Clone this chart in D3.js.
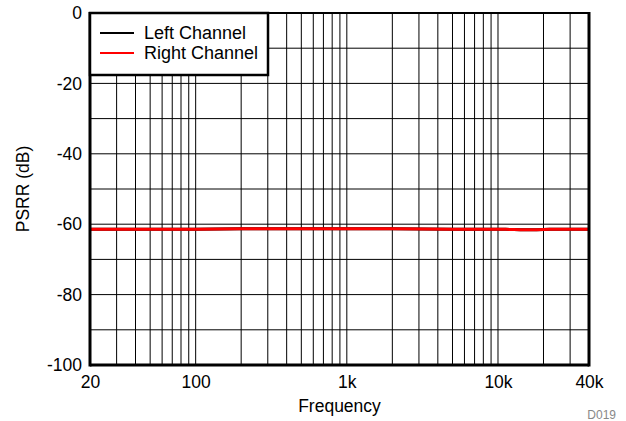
<!DOCTYPE html>
<html>
<head>
<meta charset="utf-8">
<script src="https://cdn.jsdelivr.net/npm/d3@7"></script>
<style>
  body { margin: 0; background: #fff; }
  svg { display: block; }
  text { font-family: "Liberation Sans", Arial, sans-serif; }
</style>
</head>
<body>
<svg id="chart" width="626" height="421"></svg>
<script>
// ---- data ----
const frequencies = [20, 30, 50, 100, 200, 500, 1000, 2000, 5000, 10000, 12000, 15000, 20000, 30000, 40000];
const leftChannel = [-61.4, -61.4, -61.4, -61.4, -61.3, -61.3, -61.3, -61.3, -61.4, -61.4, -61.5, -61.6, -61.5, -61.4, -61.4];
const rightChannel = [-61.4, -61.4, -61.4, -61.4, -61.3, -61.3, -61.3, -61.3, -61.4, -61.4, -61.5, -61.6, -61.5, -61.4, -61.4];
const seriesNames = ["Left Channel", "Right Channel"];
const seriesColors = ["#000000", "#ff0000"];
const xTickValues = [20, 100, 1000, 10000, 40000];
const xTickLabels = ["20", "100", "1k", "10k", "40k"];
const yTickValues = [0, -20, -40, -60, -80, -100];
const yTickLabels = ["0", "-20", "-40", "-60", "-80", "-100"];
const xGridValues = [30,40,50,60,70,80,90,100,200,300,400,500,600,700,800,900,1000,2000,3000,4000,5000,6000,7000,8000,9000,10000,20000,30000];
const yGridValues = [-10,-20,-30,-40,-50,-60,-70,-80,-90];

// ---- layout ----
const svg = d3.select("#chart");
const L = 90, R = 589, T = 13, B = 365;
const x = d3.scaleLog().domain([20, 40000]).range([L, R]);
const y = d3.scaleLinear().domain([-100, 0]).range([B, T]);

// gridlines
svg.append("g").selectAll("line").data(xGridValues).join("line")
  .attr("x1", d => x(d)).attr("x2", d => x(d))
  .attr("y1", T).attr("y2", B)
  .attr("stroke", "#000").attr("stroke-width", 1);
svg.append("g").selectAll("line").data(yGridValues).join("line")
  .attr("x1", L).attr("x2", R)
  .attr("y1", d => y(d)).attr("y2", d => y(d))
  .attr("stroke", "#000").attr("stroke-width", 1);

// series
const line = d3.line().x((d, i) => x(frequencies[i])).y(d => y(d)).curve(d3.curveMonotoneX);
[leftChannel, rightChannel].forEach((s, k) => {
  svg.append("path").datum(s)
    .attr("d", line)
    .attr("fill", "none")
    .attr("stroke", seriesColors[k])
    .attr("stroke-width", 3);
});

// frame
svg.append("line").attr("x1", L).attr("x2", R).attr("y1", T).attr("y2", T).attr("stroke", "#000").attr("stroke-width", 2);
svg.append("line").attr("x1", L).attr("x2", R).attr("y1", B).attr("y2", B).attr("stroke", "#000").attr("stroke-width", 3);
svg.append("line").attr("x1", L).attr("x2", L).attr("y1", T - 1).attr("y2", B + 1.5).attr("stroke", "#000").attr("stroke-width", 3);
svg.append("line").attr("x1", R).attr("x2", R).attr("y1", T - 1).attr("y2", B + 1.5).attr("stroke", "#000").attr("stroke-width", 3);

// axes labels
const yAxis = d3.axisLeft(y).tickValues(yTickValues).tickSize(0).tickPadding(8)
  .tickFormat((d, i) => yTickLabels[i]);
const gy = svg.append("g").attr("transform", `translate(${L},0)`).call(yAxis);
gy.select(".domain").remove();
gy.selectAll("text").attr("font-size", 17.5).attr("fill", "#000")
  .attr("font-family", "'Liberation Sans', Arial, sans-serif");

const xAxis = d3.axisBottom(x).tickValues(xTickValues).tickSize(0).tickPadding(11)
  .tickFormat((d, i) => xTickLabels[i]);
const gx = svg.append("g").attr("transform", `translate(0,${B})`).call(xAxis);
gx.select(".domain").remove();
gx.selectAll("text").attr("font-size", 17.5).attr("fill", "#000")
  .attr("font-family", "'Liberation Sans', Arial, sans-serif");

svg.append("text").attr("x", (L + R) / 2).attr("y", 412).attr("text-anchor", "middle")
  .attr("font-size", 17.5).text("Frequency");
svg.append("text").attr("transform", `translate(29,${(T + B) / 2}) rotate(-90)`)
  .attr("text-anchor", "middle").attr("font-size", 17.5).text("PSRR (dB)");
svg.append("text").attr("x", 616).attr("y", 419).attr("text-anchor", "end")
  .attr("font-size", 12).attr("fill", "#888").text("D019");

// legend
const lg = svg.append("g");
lg.append("rect").attr("x", L).attr("y", T).attr("width", 178).attr("height", 62)
  .attr("fill", "#fff").attr("stroke", "#000").attr("stroke-width", 2.5);
seriesNames.forEach((n, i) => {
  const yy = 33 + i * 20;
  lg.append("line").attr("x1", 100).attr("x2", 134).attr("y1", yy).attr("y2", yy)
    .attr("stroke", seriesColors[i]).attr("stroke-width", 2);
  lg.append("text").attr("x", 144).attr("y", yy + 6).attr("font-size", 18).text(n);
});
</script>
</body>
</html>
